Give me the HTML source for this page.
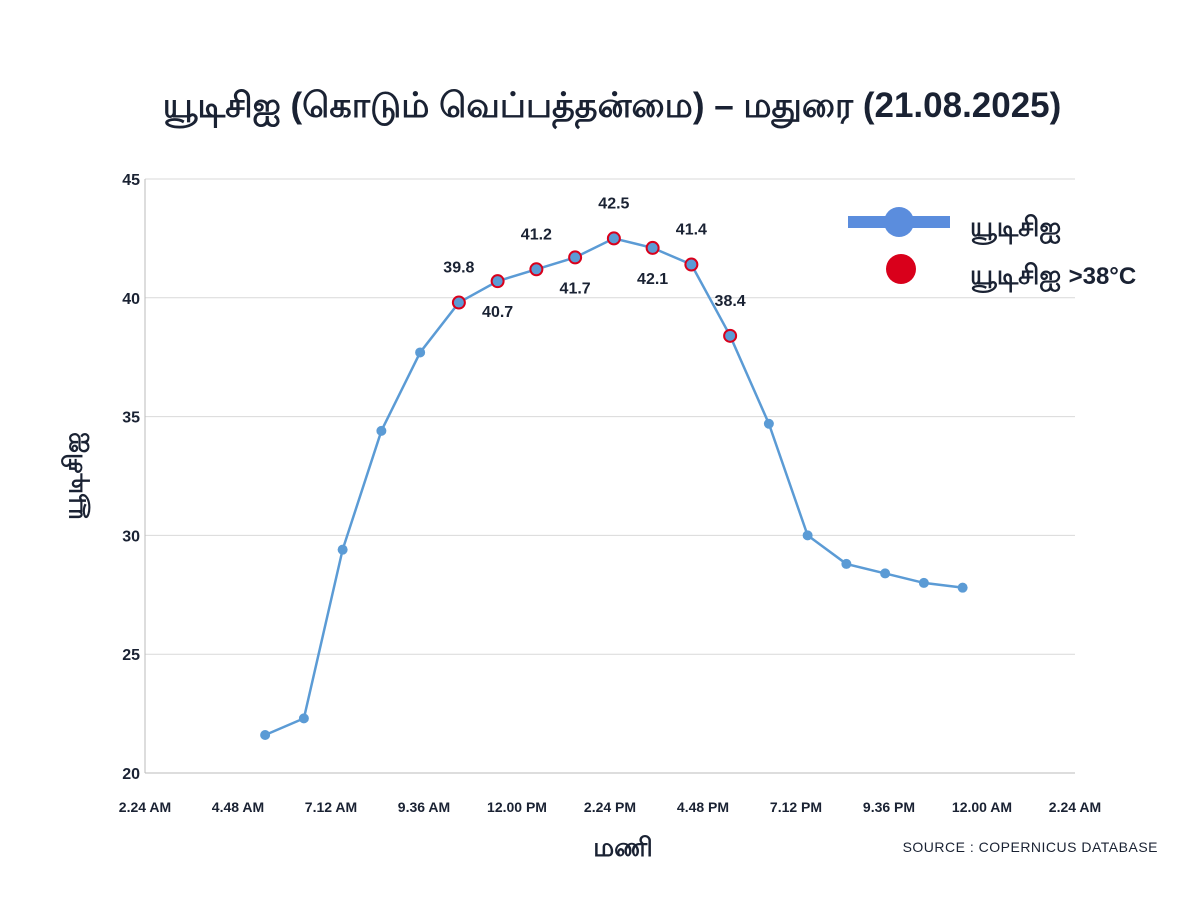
<!DOCTYPE html>
<html><head><meta charset="utf-8"><style>
body{margin:0;background:#fff;width:1200px;height:910px;overflow:hidden;font-family:"Liberation Sans","Noto Sans CJK SC",sans-serif}
</style></head><body>
<svg id="c" width="1200" height="910" xmlns="http://www.w3.org/2000/svg">
<text x="612" y="117" text-anchor="middle" font-size="35" font-weight="bold" fill="#1a2233">யூடிசிஐ (கொடும் வெப்பத்தன்மை) – மதுரை (21.08.2025)</text>
<g id="grid"></g><g id="axes"></g><g id="series"></g>
<text x="82" y="476" transform="rotate(-90 82 476)" text-anchor="middle" font-size="26" font-weight="bold" fill="#1a2233">யூடிசிஐ</text>
<text x="623" y="856" text-anchor="middle" font-size="26" font-weight="bold" fill="#1a2233">மணி</text>
<text x="1158" y="852" text-anchor="end" font-size="14" fill="#1a2233" letter-spacing="0.5">SOURCE : COPERNICUS DATABASE</text>
<g>
<rect x="848" y="216" width="102" height="12" fill="#5b8ddd"/>
<circle cx="899" cy="222" r="15" fill="#5b8ddd"/>
<text x="970" y="236" font-size="27" font-weight="bold" fill="#1a2233">யூடிசிஐ</text>
<circle cx="901" cy="269" r="15" fill="#d9001b"/>
<text x="970" y="284" font-size="27" font-weight="bold" fill="#1a2233">யூடிசிஐ <tspan font-size="24">&gt;38°C</tspan></text>
</g>
</svg>
<script>
const hours=[5.5,6.5,7.5,8.5,9.5,10.5,11.5,12.5,13.5,14.5,15.5,16.5,17.5,18.5,19.5,20.5,21.5,22.5,23.5];
const utci=[21.6,22.3,29.4,34.4,37.7,39.8,40.7,41.2,41.7,42.5,42.1,41.4,38.4,34.7,30.0,28.8,28.4,28.0,27.8];
const yTicks=[20,25,30,35,40,45];
const xTickLabels=["2.24 AM","4.48 AM","7.12 AM","9.36 AM","12.00 PM","2.24 PM","4.48 PM","7.12 PM","9.36 PM","12.00 AM","2.24 AM"];
const xTickHours=[2.4,4.8,7.2,9.6,12,14.4,16.8,19.2,21.6,24,26.4];
const labelAbove=[true,false,true,false,true,false,true,true];
const threshold=38;
const NS="http://www.w3.org/2000/svg";
const X0=145,X1=1075,Y0=773,Y1=179;
const x=h=>X0+(h-2.4)/24*(X1-X0);
const y=v=>Y0-(v-20)/25*(Y0-Y1);
function mk(t,a,p){const e=document.createElementNS(NS,t);for(const k in a)e.setAttribute(k,a[k]);p.appendChild(e);return e;}
const grid=document.getElementById('grid'),axes=document.getElementById('axes'),ser=document.getElementById('series');
yTicks.forEach(v=>{
 const l=mk('line',{x1:X0,x2:X1,y1:y(v),y2:y(v),stroke:v===20?'#bbb':'#d9d9d9','stroke-width':1},grid);
 
 
 const t=mk('text',{x:X0-5,y:y(v)+6,'text-anchor':'end','font-size':16,'font-weight':'bold',fill:'#1a2233'},axes);
 t.textContent=v;
 
 
});
const ya=mk('line',{x1:X0,x2:X0,y1:Y1,y2:Y0,stroke:'#bbb'},axes);


xTickHours.forEach((h,i)=>{
 const t=mk('text',{x:x(h),y:812,'text-anchor':'middle','font-size':14,'font-weight':'bold',fill:'#1a2233'},axes);
 t.textContent=xTickLabels[i];
 
 
});
const pl=mk('polyline',{points:hours.map((h,i)=>x(h)+','+y(utci[i])).join(' '),fill:'none',stroke:'#5b9bd5','stroke-width':2.5},ser);


let k=0;
hours.forEach((h,i)=>{
 const hot=utci[i]>threshold;
 const c=mk('circle',{cx:x(h),cy:y(utci[i]),r:hot?6:5,fill:'#5b9bd5',stroke:hot?'#d9001b':'none','stroke-width':2},ser);
 
 
 if(hot){
  const up=labelAbove[k++];
  const t=mk('text',{x:x(h),y:up?y(utci[i])-30:y(utci[i])+36,'text-anchor':'middle','font-size':16,'font-weight':'bold',fill:'#1a2233'},ser);
  t.textContent=utci[i].toFixed(1);
  
  
 }
});
</script>
</body></html>
